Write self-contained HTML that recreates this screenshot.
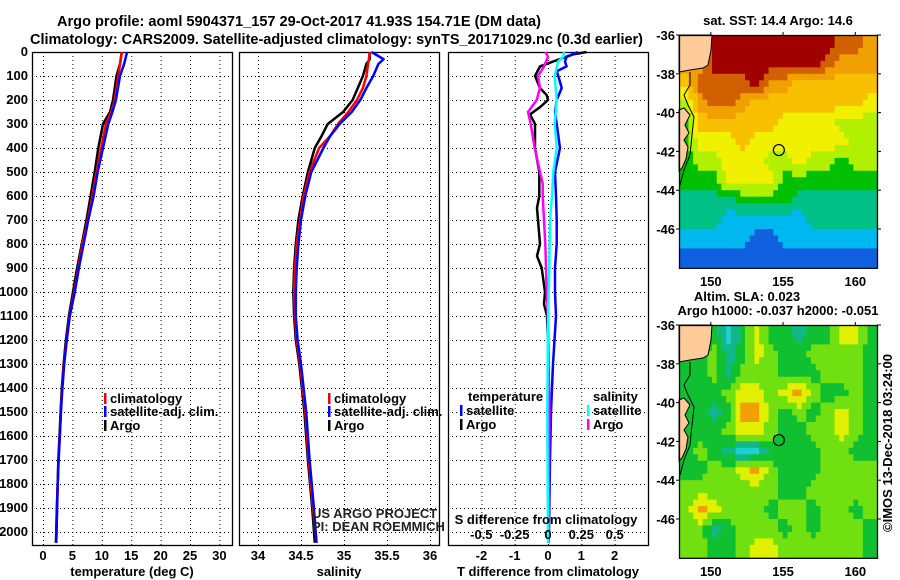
<!DOCTYPE html>
<html><head><meta charset="utf-8"><style>
html,body{margin:0;padding:0;background:#fff;}
svg{display:block;font-family:"Liberation Sans",Arial,sans-serif;}
.b{font-weight:bold;font-size:14.5px;}
.t{font-weight:bold;font-size:13px;}
</style></head><body>
<svg id="c" width="900" height="580" viewBox="0 0 900 580"></svg>
<script>
// ---- data ----
const tDepth=[0,50,100,200,250,300,400,500,600,700,800,900,1000,1100,1200,1300,1400,1500,1600,1700,1800,1900,2000,2045];
const tArgo=[13.4,13.1,12.5,11.9,11.4,10.2,9.4,8.8,8.1,7.4,6.6,5.8,5.1,4.4,3.9,3.5,3.2,3.0,2.8,2.6,2.5,2.35,2.25,2.2];
const tClim=[13.4,13.1,12.8,12.2,11.6,10.7,9.9,9.1,8.4,7.6,6.7,6.0,5.3,4.5,4.0,3.55,3.25,3.05,2.85,2.65,2.5,2.4,2.3,2.25];
const tSat=[14.3,13.8,13.1,12.4,11.8,11.1,10.2,9.3,8.6,7.7,6.9,6.1,5.4,4.55,4.05,3.6,3.3,3.05,2.85,2.65,2.5,2.4,2.3,2.25];
const sDepth=[0,30,50,100,150,200,250,300,350,400,500,600,700,800,900,1000,1100,1200,1300,1500,1700,1900,2045];
const sArgo=[35.295,35.30,35.26,35.22,35.16,35.10,34.99,34.81,34.74,34.66,34.58,34.52,34.47,34.44,34.42,34.41,34.42,34.44,34.48,34.54,34.58,34.63,34.66];
const sClim=[35.30,35.29,35.28,35.26,35.22,35.15,35.05,34.93,34.84,34.71,34.60,34.53,34.49,34.45,34.43,34.42,34.43,34.45,34.49,34.55,34.59,34.64,34.68];
const sSat=[35.32,35.46,35.40,35.34,35.26,35.19,35.09,34.95,34.84,34.76,34.62,34.55,34.50,34.47,34.45,34.44,34.44,34.46,34.50,34.56,34.60,34.65,34.68];
const dtSatDepth=[0,20,40,60,80,100,150,200,250,300,400,500,600,700,800,900,1000,1100,1300,1500,1700,2000,2045];
const dtSat=[0.9,0.56,0.51,0.56,0.26,0.31,0.41,0.26,0.21,0.26,0.36,0.21,0.24,0.26,0.26,0.21,0.21,0.24,0.15,0.09,0.06,0.03,0.02];
const dtArgoDepth=[0,10,40,60,100,150,180,200,230,260,300,400,500,600,650,800,850,900,1000,1050,1100,1200,1500];
const dtArgo=[1.16,0.75,0.15,-0.24,-0.39,-0.24,-0.04,0,-0.24,-0.54,-0.39,-0.39,-0.26,-0.26,-0.33,-0.24,-0.33,-0.19,-0.09,-0.12,-0.03,0,0];
const dsArgoDepth=[0,20,60,100,150,200,250,300,400,500,550,600,800,1000,1100,1500,2000,2045];
const dsArgo=[-0.02,0,-0.03,-0.075,-0.06,-0.085,-0.15,-0.13,-0.10,-0.06,-0.04,-0.04,-0.02,-0.01,0,0.01,0.005,0.005];
const dsSatDepth=[0,20,40,100,200,300,400,500,600,700,900,1100,1500,2000,2045];
const dsSat=[0.12,0.115,0.075,0.05,0.065,0.05,0.065,0.04,0.03,0.015,0.01,0,-0.005,0,0];
const depthTicks=[0,100,200,300,400,500,600,700,800,900,1000,1100,1200,1300,1400,1500,1600,1700,1800,1900,2000];
const tTicks=[0,5,10,15,20,25,30];
const sTicks=[34,34.5,35,35.5,36];
const dtTicks=[-2,-1,0,1,2];
const dsTicks=[-0.5,-0.25,0,0.25,0.5];
const dsTickLabels=["-0.5","-0.25","0","0.25","0.5"];
const latTicks=[-36,-38,-40,-42,-44,-46];
const lonTicks=[150,155,160];
const sstGrid=[
[7,7,9,9,9,9,9,9,9,9,9,8,8,7],
[7,7,9,9,9,9,9,9,9,9,8,7,7,7],
[6,8,8,8,8,9,7,7,6,6,6,6,6,6],
[4,7,8,8,7,6,6,6,6,6,6,6,6,5],
[3,6,6,6,6,6,6,5,5,5,5,4,4,4],
[3,5,5,5,6,5,5,5,5,5,5,5,4,4],
[3,4,4,5,5,5,4,4,5,4,4,3,4,4],
[3,3,3,5,5,5,5,3,3,3,3,3,3,3],
[2,2,2,2,3,3,3,3,2,2,2,2,2,2],
[2,2,2,1,1,1,1,1,1,2,2,2,2,2],
[1,1,1,1,1,0,0,1,1,1,1,1,1,1],
[0,0,0,0,0,0,0,0,0,0,0,0,0,0]];
const slaGrid=[
[2,2,2,0,2,4,2,2,1,2,2,4,4,2],
[2,2,3,1,2,4,3,2,2,3,3,3,3,2],
[2,2,3,1,3,3,3,2,2,2,3,3,3,2],
[2,2,2,3,4,4,3,4,5,3,2,2,3,2],
[2,2,1,2,5,5,3,2,3,2,3,4,3,2],
[2,2,2,3,4,4,3,2,2,3,3,4,3,2],
[2,3,2,1,0,0,2,2,2,2,3,3,2,2],
[2,2,3,3,4,5,3,2,2,2,3,3,3,3],
[3,3,3,3,3,3,3,2,2,3,3,3,3,3],
[3,5,4,3,3,3,2,3,3,2,3,3,2,3],
[3,3,1,2,3,3,3,2,3,2,3,3,3,2],
[3,3,2,2,3,4,4,3,3,3,3,3,3,2]];
const sstPal=["#1060e0","#00b8f0","#00c088","#00c000","#b0f000","#f0f000","#f8c000","#f0a000","#d06000","#a00000"];
const slaPal=["#20d0d0","#10b888","#10c030","#70e010","#e0f000","#f0a000"];
const floatLon=154.71, floatLat=-41.93;

// ---- helpers ----
const svg=document.getElementById('c');
const NS="http://www.w3.org/2000/svg";
function el(tag,attrs,parent){const e=document.createElementNS(NS,tag);for(const k in attrs)e.setAttribute(k,attrs[k]);(parent||svg).appendChild(e);return e;}
function txt(x,y,s,cls,anchor,parent){const e=el('text',{x:x,y:y,class:cls||'t','text-anchor':anchor||'middle'},parent);e.textContent=s;return e;}
const Y0=52,Y1=545;
const yD=d=>Y0+d*0.24;
const xT=v=>43+v*5.88;
const xS=v=>258+(v-34)*86;
const xDT=v=>548+v*33.3;
const xDS=v=>548+v*133.3;
function stepPath(xs,ds,fx){let p='';for(let i=0;i<xs.length;i++){const x=fx(xs[i]).toFixed(1),y=yD(ds[i]).toFixed(1);p+=(i?'L':'M')+x+','+y;}return p;}

// titles
let g=el('g',{});


let t1=txt(57,26,"Argo profile: aoml 5904371_157 29-Oct-2017 41.93S 154.71E (DM data)",'b','start',g);
t1.setAttribute('textLength','484');t1.setAttribute('lengthAdjust','spacingAndGlyphs');
let t2=txt(30,44,"Climatology: CARS2009. Satellite-adjusted climatology: synTS_20171029.nc (0.3d earlier)",'b','start',g);
t2.setAttribute('textLength','613');t2.setAttribute('lengthAdjust','spacingAndGlyphs');

function panel(name,x0,x1,xticks,fx,labels,xlabel,showY){
  const pg=el('g',{});
  
  
  const grid=el('g',{stroke:'#000','stroke-width':1,'stroke-dasharray':'1,3'},pg);
  
  
  depthTicks.forEach(d=>{if(d>0)el('line',{x1:x0,x2:x1,y1:yD(d)+.5,y2:yD(d)+.5},grid);});
  xticks.forEach(v=>{el('line',{x1:fx(v)+.5,x2:fx(v)+.5,y1:Y0,y2:Y1},grid);});
  el('rect',{x:x0+.5,y:Y0+.5,width:x1-x0,height:Y1-Y0,fill:'none',stroke:'#000','stroke-width':1.3},pg);
  if(labels){xticks.forEach((v,i)=>{const t=txt(fx(v),560,labels[i],'t','middle',pg);});}
  if(xlabel){const t=txt((x0+x1)/2,576,xlabel,'t','middle',pg);}
  if(showY){depthTicks.forEach(d=>{const t=txt(28,yD(d)+4,String(d),'t','end',pg);});}
  return pg;
}
function series(pg,name,xs,ds,fx,color,w){const p=el('path',{d:stepPath(xs,ds,fx),fill:'none',stroke:color,'stroke-width':w||2.5,'stroke-linejoin':'round'},pg);return p;}
function legend(pg,x,y,color,label){const lg=el('g',{},pg);el('rect',{x:x,y:y-10,width:2.5,height:11,fill:color},lg);txt(x+6,y,label,'t','start',lg);}

// panel 1 temperature
let p1=panel('temperature-panel',32,232,tTicks,xT,tTicks.map(String),'temperature (deg C)',true);
series(p1,'argo-temperature-line',tArgo,tDepth,xT,'#000');
series(p1,'climatology-temperature-line',tClim,tDepth,xT,'#f00');
series(p1,'satellite-temperature-line',tSat,tDepth,xT,'#00f');
legend(p1,104,403,'#f00','climatology');legend(p1,104,416,'#00f','satellite-adj. clim.');legend(p1,104,430,'#000','Argo');

// panel 2 salinity
let p2=panel('salinity-panel',239,439,sTicks,xS,sTicks.map(String),'salinity',false);
series(p2,'argo-salinity-line',sArgo,sDepth,xS,'#000');
series(p2,'climatology-salinity-line',sClim,sDepth,xS,'#f00');
series(p2,'satellite-salinity-line',sSat,sDepth,xS,'#00f');
legend(p2,328,403,'#f00','climatology');legend(p2,328,416,'#00f','satellite-adj. clim.');legend(p2,328,430,'#000','Argo');
let cr=el('g',{fill:'#222'},p2);
txt(312,518,'US ARGO PROJECT','','start',cr).setAttribute('font-size','12');
txt(312,531,'PI: DEAN ROEMMICH','','start',cr).setAttribute('font-size','12');

// panel 3 differences
let p3=panel('difference-panel',448,648,dtTicks,xDT,dtTicks.map(String),'T difference from climatology',false);
series(p3,'argo-temperature-diff-line',dtArgo,dtArgoDepth,xDT,'#000');
series(p3,'satellite-temperature-diff-line',dtSat,dtSatDepth,xDT,'#00f');
series(p3,'argo-salinity-diff-line',dsArgo,dsArgoDepth,xDS,'#f0f');
series(p3,'satellite-salinity-diff-line',dsSat,dsSatDepth,xDS,'#0ff');
txt(468,401,'temperature','t','start',p3);
legend(p3,460,415,'#00f','satellite');legend(p3,460,429,'#000','Argo');
txt(593,401,'salinity','t','start',p3);
legend(p3,587,415,'#0ff','satellite');legend(p3,587,429,'#f0f','Argo');
let st=txt(546,524,'S difference from climatology','t','middle',p3);
dsTicks.forEach((v,i)=>{const t=txt(xDS(v),539,dsTickLabels[i],'t','middle',p3);});

// maps
const MX0=679,MX1=877,LON0=147.8,LON1=161.5;
const mx=lon=>MX0+(lon-LON0)*(MX1-MX0)/(LON1-LON0);
function drawMap(name,top,grid,pal){
  const mg=el('g',{});
  
  
  const my=lat=>top+(-36-lat)*19.4;
  const bottom=my(-48);
  const clip=el('clipPath',{id:name+'-clip'},mg);el('rect',{x:MX0,y:top,width:MX1-MX0,height:bottom-top},clip);
  const cells=el('g',{'clip-path':'url(#'+name+'-clip)'},mg);
  const R=grid.length,C=grid[0].length,sub=3;
  const cw=(LON1-LON0)/C;
  function val(r,c){r=Math.max(0,Math.min(R-1,r));c=Math.max(0,Math.min(C-1,c));return grid[r][c];}
  for(let r=0;r<R*sub;r++)for(let c=0;c<C*sub;c++){
    const fr=(r+.5)/sub-.5,fc=(c+.5)/sub-.5;const r0=Math.floor(fr),c0=Math.floor(fc),ar=fr-r0,ac=fc-c0;
    const v=val(r0,c0)*(1-ar)*(1-ac)+val(r0,c0+1)*(1-ar)*ac+val(r0+1,c0)*ar*(1-ac)+val(r0+1,c0+1)*ar*ac;
    const lon=LON0+c*cw/sub,lat=-36-r/sub;
    el('rect',{x:mx(lon).toFixed(2),y:my(lat).toFixed(2),width:(cw/sub*14.45+.6).toFixed(2),height:(19.4/sub+.6).toFixed(2),fill:pal[Math.round(v)]},cells);
  }
  const land=el('g',{fill:'#ffcc99',stroke:'#000','stroke-width':1},mg);
  
  el('path',{d:`M${MX0},${top} L712,${top} L711,${top+15} L708,${top+30} L703,${top+33} L690,${top+35} L679,${top+37} Z`},land);
  el('path',{d:`M${MX0},${top+75} L684,${top+73} L690,${top+80} L685,${top+90} L689,${top+98} L684,${top+105} L688,${top+112} L686,${top+124} L682,${top+133} L679,${top+136} Z`},land);
  el('path',{d:`M690,${top+37} L690,${top+50} L684,${top+60} L688,${top+70} L694,${top+82} L692,${top+100} L690,${top+120} L684,${top+135} L680,${top+150}`,fill:'none',stroke:'#000','stroke-width':1},mg);
  el('rect',{x:MX0+.5,y:top+.5,width:MX1-MX0,height:bottom-top,fill:'none',stroke:'#000','stroke-width':1.3},mg);
  const mk=el('circle',{cx:mx(floatLon),cy:my(floatLat),r:5.5,fill:'none',stroke:'#000','stroke-width':1.2},mg);
  
  latTicks.forEach(l=>{txt(675,my(l)+5,String(l),'t','end',mg);el('line',{x1:MX1,x2:MX1+4,y1:my(l),y2:my(l),stroke:'#000'},mg);el('line',{x1:MX0-3,x2:MX0,y1:my(l),y2:my(l),stroke:'#000'},mg);});
  lonTicks.forEach(l=>{txt(mx(l),bottom+18,String(l),'t','middle',mg);el('line',{x1:mx(l),x2:mx(l),y1:top-3,y2:top,stroke:'#000'},mg);});
  return mg;
}
let m1=drawMap('sst-map',35,sstGrid,sstPal);
txt(778,25,'sat. SST: 14.4 Argo: 14.6','t','middle',m1);
let m2=drawMap('sla-map',325,slaGrid,slaPal);
txt(747,301,'Altim. SLA: 0.023','t','middle',m2);
txt(778,315,'Argo h1000: -0.037 h2000: -0.051','t','middle',m2);
let cp=txt(0,0,'©IMOS 13-Dec-2018 03:24:00','','middle');
cp.setAttribute('font-size','13');
cp.setAttribute('transform','translate(892,443) rotate(-90)');


</script>
</body></html>
